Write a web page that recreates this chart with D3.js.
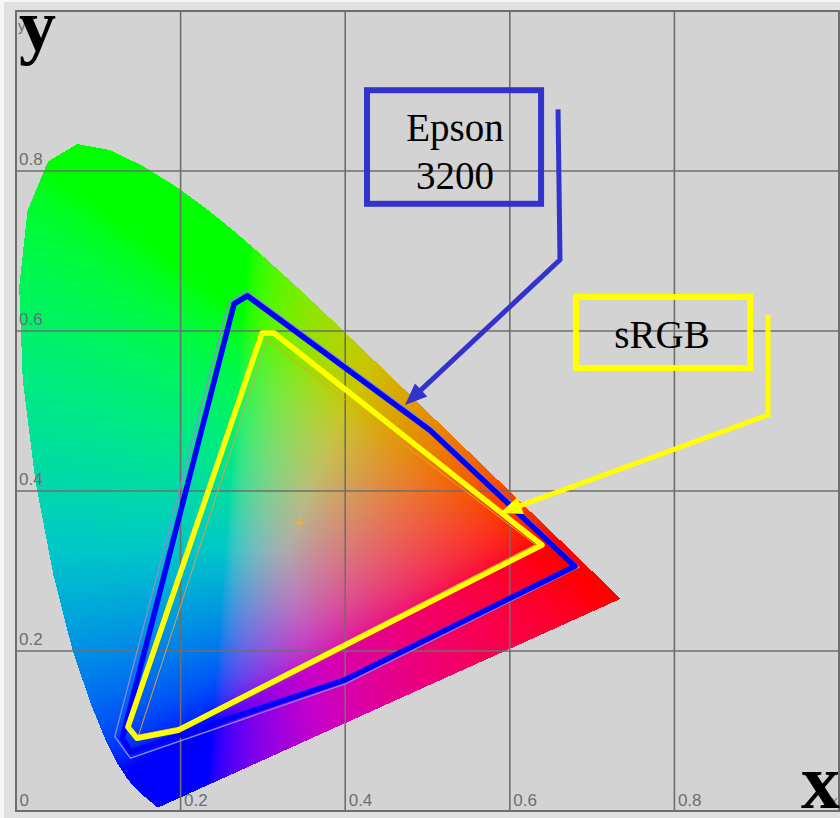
<!DOCTYPE html>
<html>
<head>
<meta charset="utf-8">
<script src="https://cdn.jsdelivr.net/npm/d3@7"></script>
<style>
  body { margin: 0; background: #f8f4f8; }
  svg { display: block; }
</style>
</head>
<body>
<svg id="chart" width="840" height="818"></svg>
<script>
// CIE 1931 spectral locus, 380 - 700 nm, [x, y]
const locus = [
  [0.1741, 0.0050], [0.1740, 0.0050], [0.1738, 0.0049], [0.1736, 0.0049], [0.1733, 0.0048],
  [0.1730, 0.0048], [0.1726, 0.0048], [0.1721, 0.0048], [0.1714, 0.0051], [0.1703, 0.0058],
  [0.1689, 0.0069], [0.1669, 0.0086], [0.1644, 0.0109], [0.1611, 0.0138], [0.1566, 0.0177],
  [0.1510, 0.0227], [0.1440, 0.0297], [0.1355, 0.0399], [0.1241, 0.0578], [0.1096, 0.0868],
  [0.0913, 0.1327], [0.0687, 0.2007], [0.0454, 0.2950], [0.0235, 0.4127], [0.0082, 0.5384],
  [0.0039, 0.6548], [0.0139, 0.7502], [0.0389, 0.8120], [0.0743, 0.8338], [0.1142, 0.8262],
  [0.1547, 0.8059], [0.1929, 0.7816], [0.2296, 0.7543], [0.2658, 0.7243], [0.3016, 0.6923],
  [0.3373, 0.6589], [0.3731, 0.6245], [0.4087, 0.5896], [0.4441, 0.5547], [0.4788, 0.5202],
  [0.5125, 0.4866], [0.5448, 0.4544], [0.5752, 0.4242], [0.6029, 0.3965], [0.6270, 0.3725],
  [0.6482, 0.3514], [0.6658, 0.3340], [0.6801, 0.3197], [0.6915, 0.3083], [0.7006, 0.2993],
  [0.7079, 0.2920], [0.7140, 0.2859], [0.7190, 0.2809], [0.7230, 0.2770], [0.7260, 0.2740],
  [0.7283, 0.2717], [0.7300, 0.2700], [0.7311, 0.2689], [0.7320, 0.2680], [0.7334, 0.2666],
  [0.7344, 0.2656], [0.7347, 0.2653]
];

// gamut outlines
const epsonGamut = [[0.265, 0.634], [0.281, 0.644], [0.503, 0.476], [0.679, 0.306], [0.400, 0.164], [0.139, 0.074], [0.129, 0.091]];
const epsonThin = [[0.258, 0.635], [0.280, 0.650], [0.503, 0.481], [0.684, 0.305], [0.400, 0.159], [0.139, 0.066], [0.120, 0.093]];
const srgbGamut = [[0.299, 0.5975], [0.3135, 0.5975], [0.639, 0.3325], [0.197, 0.101], [0.147, 0.091], [0.136, 0.105]];
const srgbThin = [[0.305, 0.589], [0.631, 0.333], [0.199, 0.105], [0.149, 0.095]];
const whitePoint = [0.345, 0.36];

const gridTicks = [0.2, 0.4, 0.6, 0.8];
const xTickLabels = ["0", "0.2", "0.4", "0.6", "0.8"];
const yTickLabels = ["0.2", "0.4", "0.6", "0.8"];
const epsonLabel = ["Epson", "3200"];
const srgbLabel = ["sRGB"];

const svg = d3.select("#chart");
const W = 840, H = 818;

const x = d3.scaleLinear().domain([0, 1]).range([16, 839]);
const y = d3.scaleLinear().domain([0, 1]).range([811, 11]);

const gamma = v => v <= 0.0031308 ? 12.92 * v : 1.055 * Math.pow(v, 1 / 2.4) - 0.055;

// xy -> display colour (display-ish primaries), clipped and normalised
let chromaColor = (cx, cy) => {
  const cz = 1 - cx - cy;
  let r = Math.max(0, (3.2406 * cx - 1.274 * cy - 0.9716 * cz) / cy);
  let g = Math.max(0, (-0.9689 * cx + 1.8758 * cy + 0.0415 * cz) / cy);
  let b = Math.max(0, (0.0557 * cx - 0.2040 * cy + 1.0570 * cz) / cy);
  const p = 1.25;
  const n = Math.pow(Math.pow(r, p) + Math.pow(g, p) + Math.pow(b, p), 1 / p);
  const m = Math.max(r, g, b);
  return [r, g, b].map(v => {
    const s = (m / n) * Math.pow(v / m, 1.3);
    return Math.round(255 * gamma(Math.min(1, s)));
  });
};

// frame backgrounds
svg.append("rect").
attr("x", 4).attr("y", 2).
attr("width", W - 4).attr("height", H - 2).
attr("fill", "#e0e0e0");

svg.append("rect").
attr("x", x(0)).attr("y", y(1)).
attr("width", x(1) - x(0)).attr("height", y(0) - y(1)).
attr("fill", "#d3d3d3");

// colour field inside the spectral locus
const cw = Math.round(x(1) - x(0)), ch = Math.round(y(0) - y(1));
const cnv = document.createElement("canvas");
cnv.width = cw;
cnv.height = ch;
const ctx = cnv.getContext("2d");
const img = ctx.createImageData(cw, ch);
for (let j = 0; j < ch; j++) {
  const cy = y.invert(y(1) + j + 0.5);
  if (cy > 0.84 || cy < 0.004) continue;
  for (let i = 0; i < cw; i++) {
    const cx = x.invert(x(0) + i + 0.5);
    if (cx > 0.74) break;
    if (!d3.polygonContains(locus, [cx, cy])) continue;
    const c = chromaColor(cx, cy);
    const k = (j * cw + i) * 4;
    img.data[k] = c[0];
    img.data[k + 1] = c[1];
    img.data[k + 2] = c[2];
    img.data[k + 3] = 255;
  }
}
ctx.putImageData(img, 0, 0);

svg.append("image").
attr("x", x(0)).attr("y", y(1)).
attr("width", cw).attr("height", ch).
attr("href", cnv.toDataURL()).
style("image-rendering", "pixelated");

// grid
const grid = svg.append("g").attr("stroke", "#6e6e6e").attr("stroke-width", 1.6);
grid.selectAll("line.v").
data(gridTicks).
enter().
append("line").
attr("x1", d => x(d)).attr("x2", d => x(d)).
attr("y1", y(0)).attr("y2", y(1));
grid.selectAll("line.h").
data(gridTicks).
enter().
append("line").
attr("y1", d => y(d)).attr("y2", d => y(d)).
attr("x1", x(0)).attr("x2", x(1));

svg.append("rect").
attr("x", x(0)).attr("y", y(1)).
attr("width", x(1) - x(0)).attr("height", y(0) - y(1)).
attr("fill", "none").
attr("stroke", "#6e6e6e").
attr("stroke-width", 2);

// tick labels
const tickStyle = sel => sel.
attr("font-family", "Liberation Sans, Arial, sans-serif").
attr("font-size", 17).
attr("fill", "#6e6e6e");

svg.append("g").
selectAll("text").
data(xTickLabels).
enter().
append("text").
attr("x", d => x(+d) + 3.5).
attr("y", y(0) - 5).
text(d => d).
call(tickStyle);

svg.append("g").
selectAll("text").
data(yTickLabels).
enter().
append("text").
attr("x", x(0) + 3).
attr("y", d => y(+d) - 6).
text(d => d).
call(tickStyle);

svg.append("text").attr("x", 18).attr("y", 31).text("y").call(tickStyle).attr("font-size", 15);
svg.append("text").attr("x", 831).attr("y", 805).text("x").call(tickStyle).attr("font-size", 13);

// gamut outlines
const outline = d3.line().
x(d => x(d[0])).
y(d => y(d[1])).
curve(d3.curveLinearClosed);

svg.append("path").
attr("d", outline(epsonThin)).
attr("fill", "none").
attr("stroke", "#8a8ad8").
attr("stroke-width", 1.3);

svg.append("path").
attr("d", outline(srgbThin)).
attr("fill", "none").
attr("stroke", "#e0a040").
attr("stroke-width", 1);

svg.append("path").
attr("d", outline(epsonGamut)).
attr("fill", "none").
attr("stroke", "#0000ff").
attr("stroke-width", 5.5).
attr("stroke-linejoin", "round");

svg.append("path").
attr("d", outline(srgbGamut)).
attr("fill", "none").
attr("stroke", "#ffff00").
attr("stroke-width", 5.5).
attr("stroke-linejoin", "round");

// white point
const wp = svg.append("g").
attr("stroke", "#f0b040").
attr("stroke-width", 1.8).
attr("opacity", 0.9);
wp.append("line").
attr("x1", x(whitePoint[0]) - 6).attr("x2", x(whitePoint[0]) + 6).
attr("y1", y(whitePoint[1])).attr("y2", y(whitePoint[1]));
wp.append("line").
attr("x1", x(whitePoint[0])).attr("x2", x(whitePoint[0])).
attr("y1", y(whitePoint[1]) - 6).attr("y2", y(whitePoint[1]) + 6);

// callouts: box, text, leader with arrow head
let drawCallout = (lines, color, box, textX, baselines, leader) => {
  const g = svg.append("g");
  g.append("rect").
  attr("x", x(box[0])).attr("y", y(box[1])).
  attr("width", x(box[2]) - x(box[0])).
  attr("height", y(box[3]) - y(box[1])).
  attr("fill", "none").
  attr("stroke", color).
  attr("stroke-width", 6);

  g.selectAll("text").
  data(lines).
  enter().
  append("text").
  attr("x", x(textX)).
  attr("y", (d, i) => y(baselines[i])).
  attr("text-anchor", "middle").
  attr("font-family", "Liberation Serif, Times New Roman, serif").
  attr("font-size", 39).
  attr("fill", "#000").
  text(d => d);

  const pts = leader.map(d => [x(d[0]), y(d[1])]);
  const tip = pts[pts.length - 1], prev = pts[pts.length - 2];
  const ang = Math.atan2(tip[1] - prev[1], tip[0] - prev[0]);
  const len = 22, half = 9;
  const base = [tip[0] - len * Math.cos(ang), tip[1] - len * Math.sin(ang)];
  const shaft = pts.slice(0, -1).concat([[tip[0] - (len - 4) * Math.cos(ang), tip[1] - (len - 4) * Math.sin(ang)]]);

  g.append("path").
  attr("d", d3.line()(shaft)).
  attr("fill", "none").
  attr("stroke", color).
  attr("stroke-width", 5);

  g.append("path").
  attr("d", d3.line()([
    tip,
    [base[0] + half * Math.sin(ang), base[1] - half * Math.cos(ang)],
    [base[0] - half * Math.sin(ang), base[1] + half * Math.cos(ang)]
  ]) + "Z").
  attr("fill", color);
};

drawCallout(epsonLabel, "#3333cc",
  [0.4265, 0.901, 0.638, 0.759], 0.5334, [0.837, 0.777],
  [[0.6586, 0.877], [0.661, 0.689], [0.4727, 0.5075]]);

drawCallout(srgbLabel, "#ffff00",
  [0.6804, 0.6425, 0.8919, 0.5538], 0.785, [0.579],
  [[0.9137, 0.62], [0.9137, 0.495], [0.5881, 0.3725]]);

// big axis letters
svg.append("text").
attr("x", 19).attr("y", 50).
attr("font-family", "Liberation Serif, Times New Roman, serif").
attr("font-weight", "bold").
attr("font-size", 74).
attr("fill", "#000").
text("y");

svg.append("text").
attr("x", 801).attr("y", 808).
attr("font-family", "Liberation Serif, Times New Roman, serif").
attr("font-weight", "bold").
attr("font-size", 78).
attr("fill", "#000").
text("x");
</script>
</body>
</html>
